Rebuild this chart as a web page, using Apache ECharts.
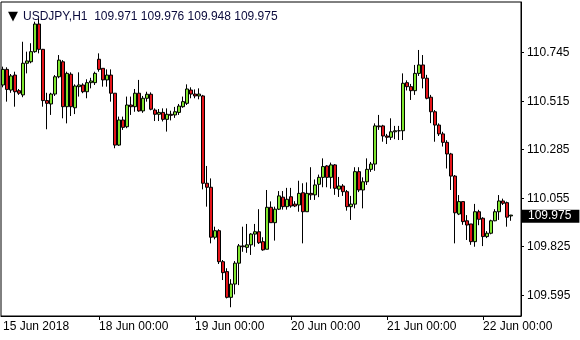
<!DOCTYPE html>
<html><head><meta charset="utf-8">
<script src="https://cdn.jsdelivr.net/npm/echarts@6/dist/echarts.min.js"></script>
<style>html,body{margin:0;padding:0;background:#fff}#c{width:580px;height:340px}</style>
</head><body><div id="c"></div><script>
const symbol = 'USDJPY,H1';
const days = ['15 Jun', '18 Jun', '19 Jun', '20 Jun', '21 Jun', '22 Jun'];
const dayTickLabels = ['15 Jun 2018', '18 Jun 00:00', '19 Jun 00:00', '20 Jun 00:00', '21 Jun 00:00', '22 Jun 00:00'];
const barsPerDay = [24, 24, 24, 24, 24, 8];
const yTicks = [109.595, 109.825, 110.055, 110.285, 110.515, 110.745];

const opens = [
110.592,110.666,110.568,110.639,110.565,110.545,110.695,110.702,110.750,110.881,110.761,110.518,110.502,110.549,110.631,110.702,
110.489,110.643,110.484,110.584,110.592,110.560,110.603,110.603,110.714,110.671,110.616,110.639,110.553,110.307,110.426,110.394,
110.497,110.489,110.553,110.469,110.529,110.548,110.473,110.453,110.462,110.429,110.453,110.450,110.462,110.489,110.505,110.568,
110.549,110.540,110.540,110.126,110.107,109.870,109.901,109.754,109.707,109.585,109.648,109.747,109.829,109.822,109.834,109.885,
109.896,109.849,109.813,110.012,109.939,110.003,110.060,110.015,110.062,110.027,110.023,110.081,109.991,110.078,110.071,110.121,
110.154,110.208,110.154,110.213,110.098,110.113,110.086,110.015,110.027,110.181,110.094,110.133,110.192,110.217,110.398,110.398,
110.350,110.344,110.370,110.375,110.375,110.603,110.584,110.565,110.647,110.687,110.624,110.534,110.465,110.402,110.360,110.320,
110.265,110.160,109.980,110.039,109.948,109.933,109.849,109.991,109.960,109.873,109.889,109.948,109.991,110.042,110.034,109.971];
const highs = [
110.679,110.676,110.644,110.655,110.573,110.797,110.750,110.790,110.892,110.908,110.763,110.555,110.555,110.639,110.734,110.710,
110.655,110.652,110.595,110.652,110.600,110.619,110.626,110.655,110.742,110.671,110.666,110.666,110.553,110.442,110.442,110.537,
110.537,110.573,110.616,110.540,110.560,110.557,110.481,110.478,110.481,110.481,110.470,110.488,110.502,110.537,110.595,110.581,
110.571,110.576,110.545,110.208,110.149,109.920,109.908,109.762,109.723,109.671,109.757,109.838,109.920,109.933,109.889,109.933,
110.003,109.870,110.094,110.040,110.015,110.089,110.089,110.104,110.104,110.041,110.138,110.126,110.130,110.202,110.144,110.167,
110.244,110.212,110.224,110.217,110.156,110.122,110.094,110.066,110.202,110.202,110.154,110.244,110.227,110.410,110.450,110.403,
110.360,110.434,110.398,110.398,110.647,110.614,110.597,110.687,110.758,110.734,110.640,110.545,110.473,110.410,110.370,110.330,
110.270,110.165,110.070,110.039,109.975,109.933,110.028,110.000,109.965,109.899,109.953,110.003,110.070,110.053,110.039,109.976];
const lows = [
110.581,110.513,110.555,110.489,110.545,110.534,110.647,110.695,110.745,110.742,110.489,110.382,110.450,110.540,110.624,110.434,
110.410,110.445,110.454,110.537,110.553,110.529,110.576,110.592,110.655,110.584,110.584,110.513,110.292,110.303,110.379,110.387,
110.450,110.465,110.465,110.460,110.513,110.472,110.421,110.421,110.419,110.371,110.424,110.436,110.450,110.484,110.497,110.529,
110.529,110.524,110.097,110.015,109.841,109.860,109.743,109.667,109.580,109.538,109.599,109.643,109.801,109.796,109.786,109.825,
109.838,109.806,109.813,109.939,109.854,109.999,110.001,110.001,110.010,110.013,109.991,109.841,109.991,110.047,110.047,110.060,
110.107,110.107,110.100,110.071,110.061,110.066,109.996,109.952,110.007,110.084,110.007,110.118,110.180,110.185,110.379,110.323,
110.312,110.331,110.335,110.331,110.331,110.566,110.521,110.545,110.635,110.576,110.524,110.411,110.323,110.350,110.300,110.196,
110.094,109.841,109.975,109.929,109.857,109.834,109.825,109.927,109.828,109.866,109.884,109.946,109.952,110.023,109.920,109.948];
const closes = [
110.666,110.571,110.635,110.560,110.553,110.695,110.706,110.750,110.881,110.761,110.518,110.505,110.549,110.631,110.710,110.489,
110.647,110.489,110.587,110.592,110.560,110.603,110.611,110.647,110.666,110.616,110.639,110.553,110.307,110.426,110.391,110.497,
110.489,110.553,110.469,110.529,110.548,110.477,110.453,110.462,110.429,110.453,110.448,110.465,110.492,110.513,110.573,110.549,
110.540,110.549,110.126,110.107,109.870,109.901,109.754,109.702,109.585,109.648,109.747,109.829,109.825,109.834,109.885,109.896,
109.844,109.810,110.012,109.939,110.003,110.066,110.015,110.050,110.018,110.018,110.078,109.991,110.078,110.071,110.118,110.154,
110.205,110.154,110.213,110.102,110.113,110.086,110.015,110.027,110.181,110.094,110.133,110.192,110.217,110.398,110.394,110.350,
110.344,110.370,110.375,110.375,110.600,110.584,110.565,110.647,110.687,110.624,110.529,110.465,110.402,110.360,110.320,110.265,
110.160,109.986,110.039,109.944,109.928,109.849,109.991,109.955,109.873,109.889,109.948,109.991,110.042,110.031,109.965,109.975];

// categories: one per hourly bar, plus two empty slots at the right edge
const categories = [];
const tickAt = {};
days.forEach((d, j) => {
  tickAt[categories.length] = dayTickLabels[j];
  for (let h = 0; h < barsPerDay[j]; h++) categories.push(d + ' ' + String(h).padStart(2, '0') + ':00');
});
categories.push(' ', '  ');

const n = closes.length - 1;
const font = 'Liberation Sans, Arial, sans-serif';
const chart = echarts.init(document.getElementById('c'), null, {renderer: 'canvas'});
chart.setOption({
  animation: false,
  backgroundColor: '#fff',
  title: {
    left: 3, top: 5,
    text: '{tri|▼}{t|' + symbol + '  ' + [opens[n], highs[n], lows[n], closes[n]].map(v => v.toFixed(3)).join(' ') + '}',
    textStyle: {fontWeight: 'normal', rich: {
      tri: {fontSize: 13, color: '#000', fontFamily: 'DejaVu Sans', fontWeight: 'normal'},
      t: {fontSize: 12, color: '#0a0a3c', fontFamily: font, fontWeight: 'normal', padding: [0, 0, 0, 5]}
    }}
  },
  grid: {left: 1, right: 59, top: 2, bottom: 24, show: true, borderColor: '#000', borderWidth: 1, backgroundColor: 'transparent'},
  xAxis: {
    type: 'category', data: categories, boundaryGap: true,
    axisLine: {show: true, lineStyle: {color: '#000', width: 1}},
    axisTick: {show: true, alignWithLabel: true, length: 4, lineStyle: {color: '#000'}, interval: i => (i in tickAt) && i > 0},
    axisLabel: {interval: i => (i in tickAt), formatter: (v, i) => tickAt[i] || '', align: 'left', color: '#000', fontSize: 12, fontFamily: font, margin: 5},
    splitLine: {show: false}
  },
  yAxis: {
    type: 'value', position: 'right', min: 109.4965, max: 110.9855, scale: true,
    axisLine: {show: true, lineStyle: {color: '#000', width: 1}},
    axisTick: {show: true, length: 3, lineStyle: {color: '#000'}, customValues: yTicks},
    axisLabel: {customValues: yTicks, formatter: v => v.toFixed(3), color: '#000', fontSize: 12, fontFamily: font, margin: 6},
    splitLine: {show: false}
  },
  series: [{
    type: 'candlestick',
    barWidth: 3,
    data: opens.map((o, i) => [o, closes[i], lows[i], highs[i]]),
    itemStyle: {color: '#7fe52e', color0: '#e5141a', borderColor: '#000', borderColor0: '#000', borderColorDoji: '#000', borderWidth: 1},
    markLine: {
      silent: true, symbol: 'none',
      lineStyle: {color: 'rgba(0,0,0,0)', width: 0},
      data: [{yAxis: closes[n]}],
      label: {show: true, position: 'end', distance: 1, formatter: closes[n].toFixed(3), backgroundColor: '#000', color: '#fff', fontSize: 12, fontFamily: font, padding: [1, 8, 0, 6]}
    }
  }]
});
</script></body></html>
